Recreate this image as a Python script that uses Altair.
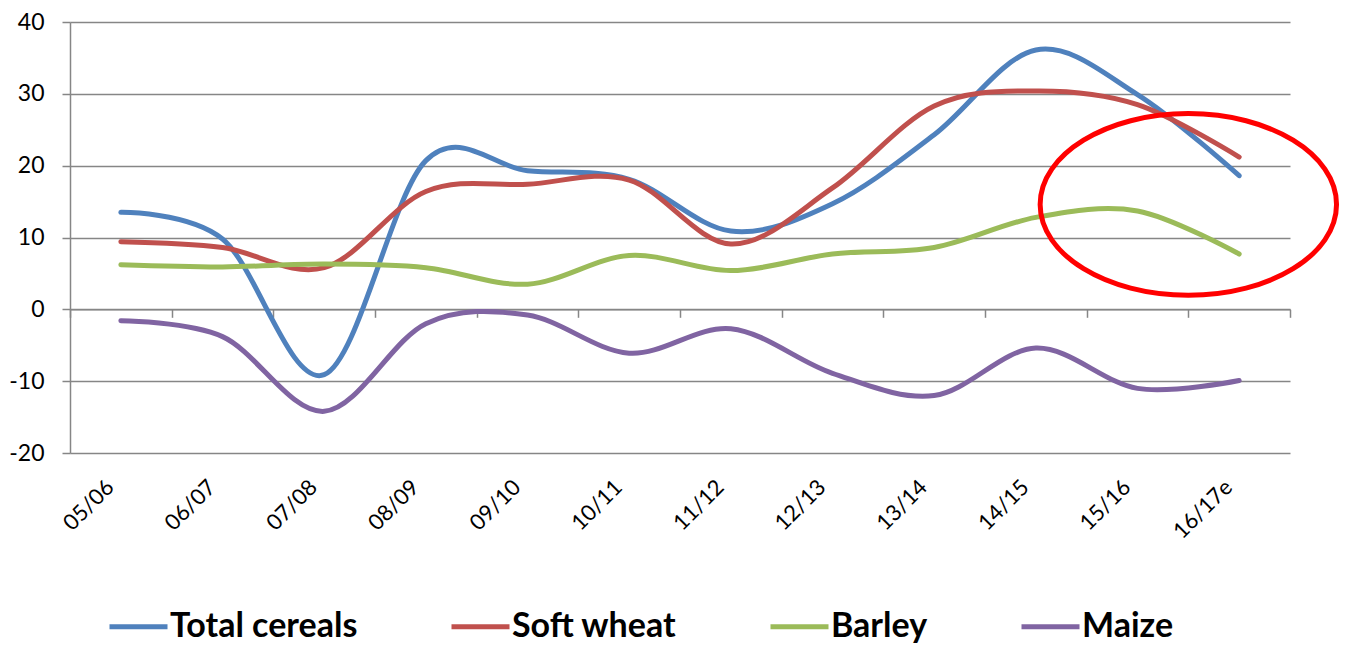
import altair as alt
import pandas as pd

categories = ["05/06", "06/07", "07/08", "08/09", "09/10", "10/11",
              "11/12", "12/13", "13/14", "14/15", "15/16", "16/17e"]
series = ["Total cereals", "Soft wheat", "Barley", "Maize"]
total_cereals = [13.5, 9.8, -9.1, 20.7, 19.3, 18.1, 10.9, 14.7, 24.3, 36.1, 29.9, 18.6]
soft_wheat = [9.4, 8.6, 5.8, 16.4, 17.4, 18.0, 9.1, 16.9, 28.3, 30.4, 28.5, 21.2]
barley = [6.2, 5.9, 6.3, 5.8, 3.5, 7.5, 5.4, 7.7, 8.6, 12.8, 13.7, 7.7]
maize = [-1.6, -3.8, -14.2, -2.0, -0.8, -6.1, -2.7, -8.9, -12.0, -5.4, -11.0, -9.9]
colors = ["#4F81BD", "#C0504D", "#9BBB59", "#8064A2"]
y_ticks = [-20, -10, 0, 10, 20, 30, 40]

# annotation ellipse (position in data terms)
ellipse_season = ["16/17e"]
ellipse_value = [14.6]

rows = []
for name, vals in zip(series, [total_cereals, soft_wheat, barley, maize]):
    for c, v in zip(categories, vals):
        rows.append({"season": c, "series": name, "value": v})
df = pd.DataFrame(rows)
ell_df = pd.DataFrame({"season": ellipse_season, "value": ellipse_value})

GRAY = "#868686"

x_axis = alt.Axis(
    title=None, orient="bottom", offset=-143.7, tickBand="extent", grid=False,
    domainColor=GRAY, domainWidth=1.5, tickColor=GRAY, tickWidth=1.5, tickSize=8,
    labelAngle=-45, labelAlign="right", labelBaseline="middle",
    labelPadding=166, labelOffset=-11, labelFont="Lato", labelFontSize=22,
    labelColor="black", labelOverlap=False,
)
y_axis = alt.Axis(
    title=None, values=y_ticks, grid=True, gridColor=GRAY, gridWidth=1.5,
    domainColor=GRAY, domainWidth=1.5, tickColor=GRAY, tickWidth=1.5, tickSize=8,
    labelPadding=18, labelFont="Lato", labelFontSize=23, labelColor="black",
    labelExpr="datum.value + ''",
)
x_scale = alt.Scale(type="band", paddingInner=0, paddingOuter=0, domain=categories)
y_scale = alt.Scale(domain=[-20, 40], nice=False, zero=False)

lines = alt.Chart(df).mark_line(
    interpolate="cardinal", strokeWidth=5, strokeCap="round", strokeJoin="round"
).encode(
    x=alt.X("season:N", sort=categories, scale=x_scale, axis=x_axis, bandPosition=0.5),
    y=alt.Y("value:Q", scale=y_scale, axis=y_axis),
    color=alt.Color(
        "series:N",
        scale=alt.Scale(domain=series, range=colors),
        legend=alt.Legend(
            orient="none", legendX=37, legendY=573, direction="horizontal",
            title=None, symbolType="stroke", symbolSize=3364, symbolStrokeWidth=5,
            labelFont="Lato", labelFontSize=34, labelFontWeight="bold",
            labelColor="black", columnPadding=83, labelOffset=0, labelLimit=500,
        ),
    ),
)

ellipse_path = "M-1,0 A1,0.613,0,1,0,1,0 A1,0.613,0,1,0,-1,0 Z"
ellipse = alt.Chart(ell_df).mark_point(
    shape=ellipse_path, size=87853, filled=False, stroke="#FF0000",
    strokeWidth=5, opacity=1,
).encode(
    x=alt.X("season:N", sort=categories, scale=x_scale, axis=x_axis, bandPosition=0),
    y=alt.Y("value:Q", scale=y_scale, axis=y_axis),
)

chart = alt.layer(lines, ellipse).properties(
    width=1220, height=431,
    autosize=alt.AutoSizeParams(type="none"),
    padding={"left": 62, "top": 14, "right": 50, "bottom": 191},
    background="white",
).configure_view(stroke=None)

chart.save("out.html", embed_options={"renderer": "svg", "actions": False})
